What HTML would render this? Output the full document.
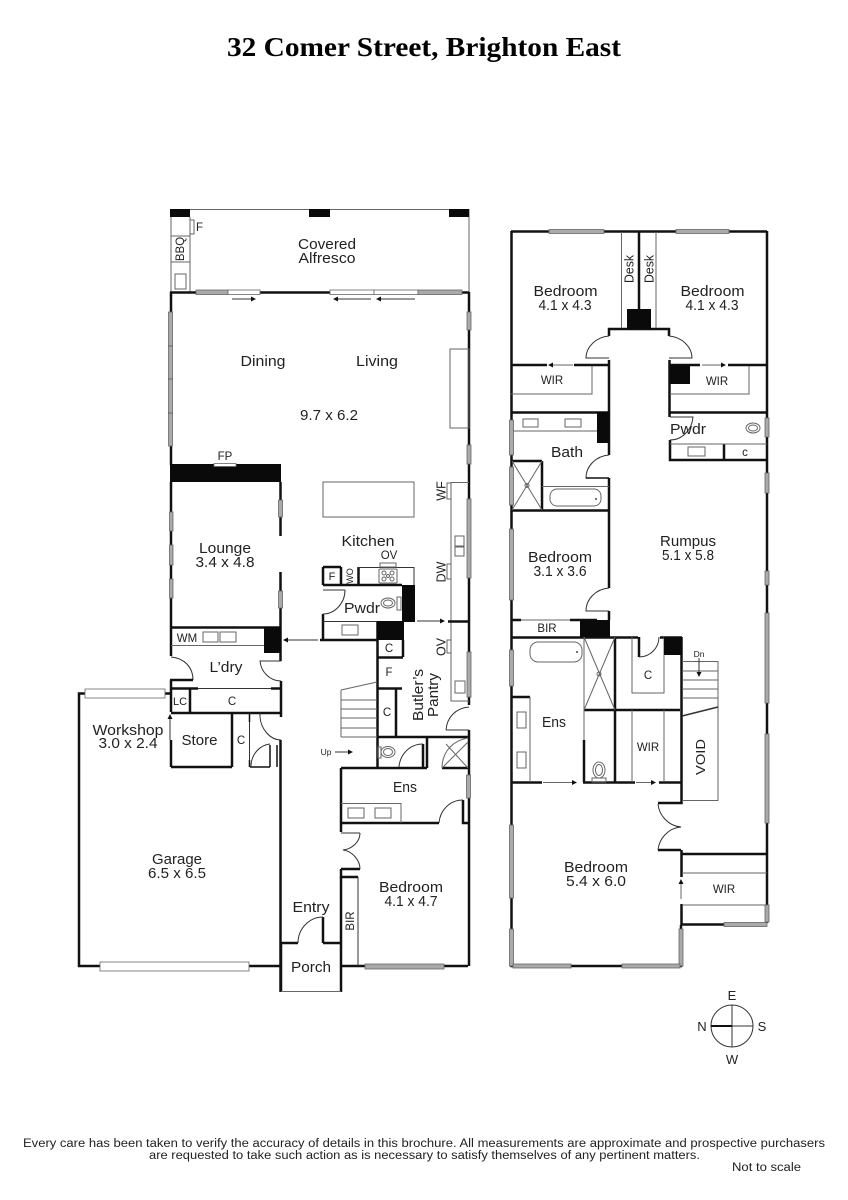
<!DOCTYPE html>
<html><head><meta charset="utf-8"><style>
html,body{margin:0;padding:0;background:#fff}
svg{display:block}
text{font-family:"Liberation Sans",sans-serif;fill:#222;text-anchor:middle}
.l{font-size:14.5px}
.s{font-size:11.5px}
.v{font-size:12.5px}
.w{fill:none;stroke:#111;stroke-width:2.5}
.t{fill:none;stroke:#666;stroke-width:1}
.a{fill:none;stroke:#333;stroke-width:1}
.b{fill:#0a0a0a;stroke:none}
.g{fill:#aaa;stroke:#666;stroke-width:.8}
.h{fill:#fff;stroke:#666;stroke-width:.8}
.r{fill:#111;stroke:none}
</style></head><body>
<svg width="848" height="1200" viewBox="0 0 848 1200" xmlns="http://www.w3.org/2000/svg">
<text x="424" y="56" style="font-family:'Liberation Serif',serif;font-weight:bold;font-size:27px;fill:#000" textLength="394" lengthAdjust="spacingAndGlyphs">32 Comer Street, Brighton East</text>

<!-- ===== GROUND: Alfresco ===== -->
<path class="t" d="M171 209.5H469V292M171 217V292M190 217V292M171 236H190M171 262H190"/>
<rect class="b" x="170" y="209" width="20" height="8"/><rect class="b" x="309" y="209" width="21" height="8"/><rect class="b" x="449" y="209" width="20" height="8"/>
<rect class="t" x="175" y="274" width="11" height="15"/><rect class="t" x="190" y="220" width="4" height="14"/>
<text class="s" x="199.500" y="231">F</text>
<text class="s" transform="translate(184,249) rotate(-90)">BBQ</text>
<text class="l" x="327" y="249" textLength="58" lengthAdjust="spacingAndGlyphs">Covered</text>
<text class="l" x="327" y="263" textLength="57" lengthAdjust="spacingAndGlyphs">Alfresco</text>

<!-- Dining walls -->
<path class="w" d="M170 292.5H469M171 292V465M469 292V705M469 730V966"/>
<rect class="g" x="196" y="290" width="32" height="4.5"/><rect class="h" x="228" y="290" width="32" height="4.5"/>
<rect class="h" x="330" y="290" width="44" height="4.5"/><rect class="h" x="374" y="290" width="44" height="4.5"/><rect class="g" x="418" y="290" width="44" height="4.5"/>
<path class="a" d="M232 299H254M371 299H336M415 299H379"/>
<path class="r" d="M256 299l-5-2.500v5zM333 299l5-2.500v5zM376 299l5-2.500v5z"/>
<rect class="g" x="168.500" y="312" width="4" height="134"/><path class="t" d="M168 346H173M168 379H173M168 413H173"/>
<rect class="g" x="467" y="312" width="4" height="18"/><rect class="g" x="467" y="445" width="4" height="19"/><rect class="g" x="467" y="499" width="4" height="79"/><rect class="g" x="467" y="652" width="4" height="45"/>
<rect class="t" x="450" y="349" width="19" height="79"/>
<text class="l" x="263" y="366" textLength="45" lengthAdjust="spacingAndGlyphs">Dining</text>
<text class="l" x="377" y="366" textLength="42" lengthAdjust="spacingAndGlyphs">Living</text>
<text class="l" x="329" y="420" textLength="58" lengthAdjust="spacingAndGlyphs">9.7 x 6.2</text>

<!-- Kitchen bench -->
<rect class="t" x="323" y="482" width="91" height="35"/>
<path class="t" d="M469 482.500H451V701H469"/>
<rect class="t" x="447" y="483" width="4" height="16"/><rect class="t" x="447" y="564" width="4" height="15"/><rect class="t" x="447" y="640" width="4" height="13"/>
<rect class="t" x="455" y="536" width="9" height="10"/><rect class="t" x="455" y="547" width="9" height="9"/><rect class="t" x="455" y="681" width="10" height="12"/>
<text class="v" transform="translate(445.500,491) rotate(-90)">WF</text>
<text class="v" transform="translate(445.500,572) rotate(-90)">DW</text>
<text class="v" transform="translate(445.500,647) rotate(-90)">OV</text>

<!-- Lounge -->
<rect class="b" x="170" y="464" width="111" height="18"/><rect class="h" x="214" y="463.500" width="22" height="3"/>
<text class="s" x="225" y="460">FP</text>
<path class="w" d="M171 482V656M280.500 482V536M280.500 572V661M171 627.500H281"/>
<rect class="g" x="169.500" y="512" width="3.500" height="19"/><rect class="g" x="169.500" y="545" width="3.500" height="20"/><rect class="g" x="169.500" y="579" width="3.500" height="19"/>
<rect class="g" x="278.500" y="500" width="4" height="17"/><rect class="g" x="278.500" y="591" width="4" height="17"/>
<text class="l" x="225" y="553" textLength="52" lengthAdjust="spacingAndGlyphs">Lounge</text>
<text class="l" x="225" y="567" textLength="59" lengthAdjust="spacingAndGlyphs">3.4 x 4.8</text>
<path class="t" d="M171 645.500H264"/>
<rect class="t" x="203" y="632" width="15" height="10"/><rect class="t" x="220" y="632" width="16" height="10"/>
<rect class="b" x="264" y="627" width="17" height="26"/>
<text class="s" x="187" y="642">WM</text>
<!-- Laundry -->
<path class="a" d="M171 657C184 658 193 667 193 680M281 661H260C261 672 270 681 281 681"/>
<path class="w" d="M170 680H193M281 681V717M171 680V712M171 740V767M171 713H281M171 767H232M232 713V767M280.500 740V992"/>
<path class="w" stroke-width="2" d="M171 688.500H198M271 688.500H281M190 688V713"/>
<path class="a" d="M198 688.500H271"/>
<text class="l" x="226" y="672" textLength="33" lengthAdjust="spacingAndGlyphs">L’dry</text>
<text class="s" x="180" y="705" style="font-size:11px">LC</text>
<text class="s" x="232" y="705">C</text>
<text class="l" x="199.500" y="745" textLength="36" lengthAdjust="spacingAndGlyphs">Store</text>
<text class="s" x="241" y="744">C</text>
<path class="w" style="stroke-width:1.500" d="M249.500 713V722M249.500 760V767M270 745V767M277 745V767M250 767H270"/>
<path class="a" d="M249.500 722V760M251 767C251 754 260 745 270 744M260 717C261 729 270 740 281 740M260 713V717"/>
<path class="a" d="M170 740V719"/><path class="r" d="M170 714l-2.500 5h5z"/>
<!-- Workshop & Garage -->
<path class="w" d="M171 693.500H79V966H100M249 966H280M365 966H341M444 966H468M280.500 943H298M323 943H341M323 917V943M341 877V966M341 943V992M281 943V992"/>
<rect class="h" x="85" y="689" width="80" height="9"/>
<rect class="h" x="100" y="962" width="149" height="9"/>
<rect class="g" x="365" y="964" width="79" height="5"/>
<text class="l" x="128" y="735" textLength="71" lengthAdjust="spacingAndGlyphs">Workshop</text>
<text class="l" x="128" y="748" textLength="59" lengthAdjust="spacingAndGlyphs">3.0 x 2.4</text>
<text class="l" x="177" y="864" textLength="50" lengthAdjust="spacingAndGlyphs">Garage</text>
<text class="l" x="177" y="878" textLength="58" lengthAdjust="spacingAndGlyphs">6.5 x 6.5</text>
<path class="t" d="M281 991.500H341"/>
<path class="a" d="M298 943C298 928 310 917 323 917"/>
<text class="l" x="311" y="912" textLength="37" lengthAdjust="spacingAndGlyphs">Entry</text>
<text class="l" x="311" y="972" textLength="40" lengthAdjust="spacingAndGlyphs">Porch</text>
<!-- Kitchen pantry block -->
<path class="w" d="M323 567V585M323 585H402M323 614V640M320 640H378M341 567V585M358.500 567V585M323 567H341M377.500 622V768M377 657.500H403M403 640V657M377 688.500H402M377 737H469M396 688V737"/>
<path class="a" d="M358 567.500H414V585M345 590C345 603 335 614 323 614M323 590H345M323 621.500H378"/>
<rect class="b" x="402" y="585" width="13" height="37"/><rect class="b" x="377" y="621" width="27" height="19"/>
<rect class="t" x="342" y="625" width="16" height="10"/>
<text class="s" x="332" y="580" style="font-size:11px">F</text>
<text class="s" transform="translate(353,576) rotate(-90)" style="font-size:9px">WO</text>
<rect class="t" x="380" y="563" width="16" height="4"/>
<rect class="t" x="379" y="569" width="18" height="14" rx="1"/>
<circle class="t" cx="384" cy="573" r="2"/><circle class="t" cx="392" cy="573" r="2"/><circle class="t" cx="384" cy="579" r="2"/><circle class="t" cx="392" cy="579" r="2"/><circle class="t" cx="388" cy="576" r="1.500"/>
<text class="s" x="389" y="559">OV</text>
<text class="l" x="368" y="546" textLength="53" lengthAdjust="spacingAndGlyphs">Kitchen</text>
<text class="l" x="362" y="613" textLength="36" lengthAdjust="spacingAndGlyphs">Pwdr</text>
<ellipse class="t" cx="388" cy="603" rx="7" ry="5"/><ellipse class="t" cx="388" cy="603" rx="4.500" ry="3"/><rect class="t" x="397" y="597" width="4" height="13"/>
<path class="a" d="M417 621H442M318 640H286"/>
<path class="r" d="M445 621l-5-2.500v5zM283 640l5-2.500v5z"/>
<path class="w" d="M448 621.500H469"/>
<text class="s" x="389" y="652">C</text>
<text class="s" x="389" y="676">F</text>
<text class="s" x="387" y="716">C</text>
<text class="l" transform="translate(423,695) rotate(-90)" textLength="52" lengthAdjust="spacingAndGlyphs">Butler’s</text>
<text class="l" transform="translate(438,695) rotate(-90)" textLength="44" lengthAdjust="spacingAndGlyphs">Pantry</text>
<path class="a" d="M446 730C447 717 456 708 469 707M446 730H469"/>
<!-- Stairs -->
<path class="t" d="M341 690L377 682M341 690V737M341 700H377M341 709H377M341 718H377M341 728H377M341 737H377"/>
<path class="a" d="M335 752H349"/><path class="r" d="M353 752l-5-2.500v5z"/>
<text x="326" y="755" style="font-size:8.500px">Up</text>
<!-- Toilet, shower, Ens -->
<ellipse class="t" cx="388" cy="752" rx="7" ry="5.500"/><ellipse class="t" cx="388" cy="752" rx="4.500" ry="3.500"/><rect class="t" x="378" y="747" width="3" height="11"/>
<path class="w" d="M341 768H427M427 737V768M423 744V768M341 768V832M341 823H439M463 800V823H468M341 869V877H358M341 869H360M442 768H468"/>
<path class="a" d="M399 767C400 754 410 744 423 744M439 823C440 810 450 800 463 800M360 833H341M360 833C360 842 352 849 343 850C352 851 360 860 360 869M358 877V966"/>
<path class="t" d="M442 768C442 750 455 740 468 738M442 768L468 742M446 744L468 768"/>
<rect class="g" x="466.500" y="775" width="4" height="23"/>
<path class="t" d="M341 803.500H401V823"/>
<rect class="t" x="348" y="808" width="16" height="10"/><rect class="t" x="375" y="808" width="16" height="10"/>
<text class="l" x="405" y="792" textLength="24" lengthAdjust="spacingAndGlyphs">Ens</text>
<text class="s" transform="translate(354,921) rotate(-90)">BIR</text>
<text class="l" x="411" y="892" textLength="64" lengthAdjust="spacingAndGlyphs">Bedroom</text>
<text class="l" x="411" y="906" textLength="53" lengthAdjust="spacingAndGlyphs">4.1 x 4.7</text>

<!-- ===== UPPER FLOOR ===== -->
<path class="w" d="M511 231.500H767M511.500 231V782M767 231V923M511.500 782V966H681V925M639 232V310M609 336V329H669V336M609 360V455M609 478V588M609 611V620M669.500 360V417M511 365H547M574 365H609M669 365H700M728 365H767M511 412.500H609M670 412.500H767M670 440V460H767M724 444V460M511 461H542M542 461V510M511 510.500H609M511 620H521M570 620H597M511 637.500H638M660 637.500H682M615 637V782M584 740V782M511 782.500H542M583 782.500H635M659 782.500H681M584 710H680M681.500 637V803H658M681.500 850V877M681.500 904V925M658 850H681M681 854H767M681 924.500H724M639 637V657M511 697H530"/>
<rect class="g" x="549" y="229.500" width="55" height="4"/><rect class="g" x="676" y="229.500" width="53" height="4"/>
<path class="t" d="M621.500 232V328M656 232V328"/>
<rect class="b" x="627" y="309" width="24" height="20"/>
<text class="v" transform="translate(633.500,269) rotate(-90)" textLength="28" lengthAdjust="spacingAndGlyphs">Desk</text>
<text class="v" transform="translate(653.500,269) rotate(-90)" textLength="28" lengthAdjust="spacingAndGlyphs">Desk</text>
<text class="l" x="565.500" y="296" textLength="64" lengthAdjust="spacingAndGlyphs">Bedroom</text>
<text class="l" x="565" y="310" textLength="53" lengthAdjust="spacingAndGlyphs">4.1 x 4.3</text>
<text class="l" x="712.500" y="296" textLength="64" lengthAdjust="spacingAndGlyphs">Bedroom</text>
<text class="l" x="712" y="310" textLength="53" lengthAdjust="spacingAndGlyphs">4.1 x 4.3</text>
<path class="a" d="M609 336C596 337 586 347 586 358H609M669 336C682 337 692 347 692 358H669"/>
<path class="t" d="M592 366V394H511M749 366V394H670M573 365H552M702 365H722"/>
<path class="r" d="M548 365l5-2.500v5zM726 365l-5-2.500v5z"/>
<rect class="b" x="670" y="365" width="20" height="19"/>
<text class="s" x="552" y="384">WIR</text>
<text class="s" x="717" y="385">WIR</text>
<!-- Bath -->
<rect class="b" x="597" y="412" width="12" height="31"/>
<path class="t" d="M511 431H597"/>
<rect class="t" x="523" y="419" width="15" height="8"/><rect class="t" x="565" y="419" width="16" height="8"/>
<text class="l" x="567" y="457" textLength="32" lengthAdjust="spacingAndGlyphs">Bath</text>
<path class="a" d="M609 455C596 456 586 466 586 478H609"/>
<path class="w" style="stroke-width:1.500" d="M586 478H609"/>
<rect class="g" x="509.500" y="420" width="4" height="35"/><rect class="g" x="509.500" y="467" width="4" height="38"/>
<path class="t" d="M512 461L542 510M542 461L512 510"/><circle class="t" cx="527" cy="485.500" r="2"/>
<path class="t" d="M542 486.500H609"/>
<rect class="t" x="550" y="489" width="51" height="17" rx="7"/>
<circle class="r" cx="596" cy="499" r=".9"/>
<!-- Right pwdr -->
<path class="a" d="M670 417H693C692 430 682 440 670 440"/>
<path class="t" d="M670 444H767"/>
<rect class="t" x="688" y="447" width="17" height="9"/>
<text class="s" x="745" y="456">c</text>
<text class="l" x="688" y="434" textLength="36" lengthAdjust="spacingAndGlyphs">Pwdr</text>
<ellipse class="t" cx="753" cy="428" rx="7" ry="5"/><ellipse class="t" cx="753" cy="428" rx="4.500" ry="3"/>
<rect class="g" x="765" y="418" width="4" height="19"/>
<rect class="g" x="765" y="473" width="4" height="20"/><rect class="g" x="765" y="571" width="4" height="14"/><rect class="g" x="765" y="613" width="4" height="90"/><rect class="g" x="765" y="734" width="4" height="89"/><rect class="g" x="765" y="905" width="4" height="17"/>
<text class="l" x="688" y="546" textLength="56" lengthAdjust="spacingAndGlyphs">Rumpus</text>
<text class="l" x="688" y="560" textLength="52" lengthAdjust="spacingAndGlyphs">5.1 x 5.8</text>
<!-- Bedroom 3 -->
<rect class="g" x="509.500" y="529" width="4" height="71"/>
<text class="l" x="560" y="562" textLength="64" lengthAdjust="spacingAndGlyphs">Bedroom</text>
<text class="l" x="560" y="576" textLength="53" lengthAdjust="spacingAndGlyphs">3.1 x 3.6</text>
<path class="a" d="M609 588C596 589 586 599 586 611H609"/>
<path class="t" d="M521 620H570"/>
<rect class="b" x="580" y="620" width="30" height="17"/>
<text class="s" x="547" y="632">BIR</text>
<!-- Ens -->
<rect class="g" x="509.500" y="650" width="4" height="36"/>
<rect class="t" x="530" y="642" width="52" height="20" rx="8"/><circle class="r" cx="577" cy="652" r=".9"/>
<path class="t" d="M584 637V740M584 637L615 710M615 637L584 710"/><circle class="t" cx="599" cy="674" r="2"/>
<path class="t" d="M530 697V782"/>
<rect class="t" x="517" y="712" width="9" height="16"/><rect class="t" x="517" y="752" width="9" height="16"/>
<text class="l" x="554" y="727" textLength="24" lengthAdjust="spacingAndGlyphs">Ens</text>
<ellipse class="t" cx="599" cy="770" rx="6" ry="8"/><ellipse class="t" cx="599" cy="770" rx="3.500" ry="5.500"/><rect class="t" x="592" y="778" width="14" height="4"/>
<path class="t" d="M632 637V693H664V637M632 710V782M664 710V782M543 782.500H573M636 782.500H652"/>
<path class="r" d="M577 782.500l-5-2.500v5zM656 782.500l-5-2.500v5z"/>
<path class="a" d="M639 657C650 657 659 648 659 637"/>
<rect class="b" x="664" y="637" width="18" height="18"/>
<text class="s" x="648" y="679">C</text>
<text class="s" x="648" y="751">WIR</text>
<!-- Upper stairs -->
<path class="t" d="M682 661.500H718V800.500H682M682 671H718M682 680H718M682 689H718M682 698H718"/>
<path class="a" d="M682 716L718 707" style="stroke-width:1.500"/>
<path class="a" d="M699 658V673"/><path class="r" d="M699 677l-2.500-5h5z"/>
<text x="699" y="657" style="font-size:8.500px">Dn</text>
<text class="l" transform="translate(705,757) rotate(-90)" style="font-size:13px" textLength="36" lengthAdjust="spacingAndGlyphs">VOID</text>
<!-- Double door master -->
<path class="a" d="M658 804C659 815 668 826 681 827C668 828 659 839 658 850"/>
<path class="t" d="M682 873H767M682 905H767"/>
<text class="s" x="724" y="893">WIR</text>
<path class="t" d="M681 899V884"/><path class="r" d="M681 879l-2.500 5h5z"/>
<rect class="g" x="724" y="922.500" width="43" height="4"/>
<rect class="g" x="509.500" y="825" width="4" height="73"/><rect class="g" x="509.500" y="929" width="4" height="37"/>
<rect class="g" x="679" y="929" width="4" height="37"/>
<rect class="g" x="513" y="964" width="58" height="4"/><rect class="g" x="622" y="964" width="58" height="4"/>
<text class="l" x="596" y="872" textLength="64" lengthAdjust="spacingAndGlyphs">Bedroom</text>
<text class="l" x="596" y="886" textLength="60" lengthAdjust="spacingAndGlyphs">5.4 x 6.0</text>

<!-- Compass -->
<circle class="a" cx="732" cy="1026" r="21"/>
<path class="a" d="M732 1005V1047M711 1026H753"/>
<path d="M711 1026H732" stroke="#111" stroke-width="2"/>
<text class="l" x="732" y="1000" style="font-size:13px">E</text>
<text class="l" x="762" y="1031" style="font-size:13px">S</text>
<text class="l" x="702" y="1031" style="font-size:13px">N</text>
<text class="l" x="732" y="1064" style="font-size:13px">W</text>

<!-- Footer -->
<text x="424" y="1147" style="font-size:11.500px" textLength="802" lengthAdjust="spacingAndGlyphs">Every care has been taken to verify the accuracy of details in this brochure.  All measurements are approximate and prospective purchasers</text>
<text x="424.500" y="1159" style="font-size:11.500px" textLength="551" lengthAdjust="spacingAndGlyphs">are requested to take such action as is necessary to satisfy themselves of any pertinent matters.</text>
<text x="766.500" y="1171" style="font-size:11.500px" textLength="69" lengthAdjust="spacingAndGlyphs">Not to scale</text>
</svg>
</body></html>
